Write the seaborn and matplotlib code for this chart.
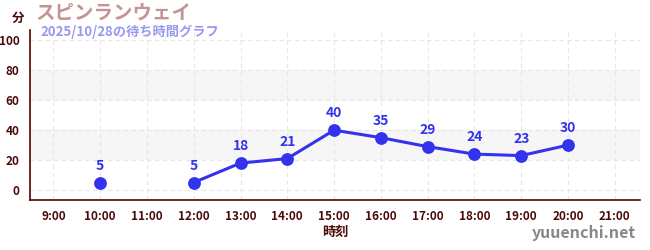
import numpy as np
import pandas as pd
import matplotlib
matplotlib.use("Agg")
import matplotlib.pyplot as plt
import seaborn as sns
from matplotlib.ticker import MultipleLocator

hours = [10, 12, 13, 14, 15, 16, 17, 18, 19, 20]
waits = [5, 5, 18, 21, 40, 35, 29, 24, 23, 30]
segments = [0, 1, 1, 1, 1, 1, 1, 1, 1, 1]
xtick_hours = list(range(9, 22))
xtick_labels = [f"{h}:00" for h in xtick_hours]
yticks = [0, 20, 40, 60, 80, 100]

title = "スピンランウェイ"
subtitle = "2025/10/28の待ち時間グラフ"

sns.set_style("white")
plt.rcParams['font.family'] = ['Noto Sans CJK JP', 'DejaVu Sans']

df = pd.DataFrame({"hour": hours, "wait": waits, "seg": segments})

fig = plt.figure(figsize=(6.5, 2.5), dpi=100)
ax = fig.add_axes([30/650, 50/250, 610/650, 170/250])

dark = "#4a0a0a"
blue = "#3333ee"

for lo, hi in [(20, 40), (60, 80)]:
    ax.axhspan(lo, hi, color="#f6f6f6", zorder=0, lw=0)

sns.lineplot(data=df, x="hour", y="wait", units="seg", estimator=None,
             color=blue, lw=2.2, ax=ax, zorder=3)
sns.scatterplot(data=df, x="hour", y="wait", color=blue, s=85,
                edgecolor=blue, linewidth=0, ax=ax, zorder=4)
for h, w in zip(hours, waits):
    ax.annotate(str(w), (h, w), xytext=(0, 7), textcoords="offset points",
                ha="center", va="bottom", color=blue, fontsize=10,
                fontweight="bold")

ax.set_xlim(8.5, 21.54)
ax.set_ylim(-6.7, 107)
ax.set_xticks(xtick_hours)
ax.set_xticklabels(xtick_labels)
ax.set_yticks(yticks)
ax.yaxis.set_minor_locator(MultipleLocator(10))
ax.tick_params(axis="y", which="minor", length=3, color="#dd2222", width=1)
ax.tick_params(axis="both", which="major", length=4, color=dark, labelsize=8.5,
               labelcolor=dark, width=1)
ax.tick_params(axis="x", colors="#555555", labelcolor=dark)
for lab in ax.get_xticklabels() + ax.get_yticklabels():
    lab.set_fontweight("bold")

ax.grid(True, which="major", axis="both", color="#e6e6e6", ls=(0, (4, 3)), lw=0.8)
ax.set_axisbelow(True)
for s in ["top", "right"]:
    ax.spines[s].set_visible(False)
for s in ["left", "bottom"]:
    ax.spines[s].set_color("#5a0000")
    ax.spines[s].set_linewidth(1.2)

ax.set_xlabel("時刻", fontsize=9.5, color=dark, fontweight="bold", labelpad=1)
ax.set_ylabel("")

fig.text(18/650, 1 - 18/250, "分", fontsize=9, color=dark, fontweight="bold",
         ha="center", va="center")
fig.text(36/650, 1 - 13/250, title, fontsize=14, color="#c49393",
         fontweight="bold", ha="left", va="center")
fig.text(40/650, 1 - 32/250, subtitle, fontsize=9.5, color="#9999ee",
         fontweight="bold", ha="left", va="center")
fig.text(636/650, 1 - 233/250, "yuuenchi.net", fontsize=11.5, color="#888888",
         fontweight="bold", ha="right", va="center")

fig.savefig("out.png", dpi=100)
